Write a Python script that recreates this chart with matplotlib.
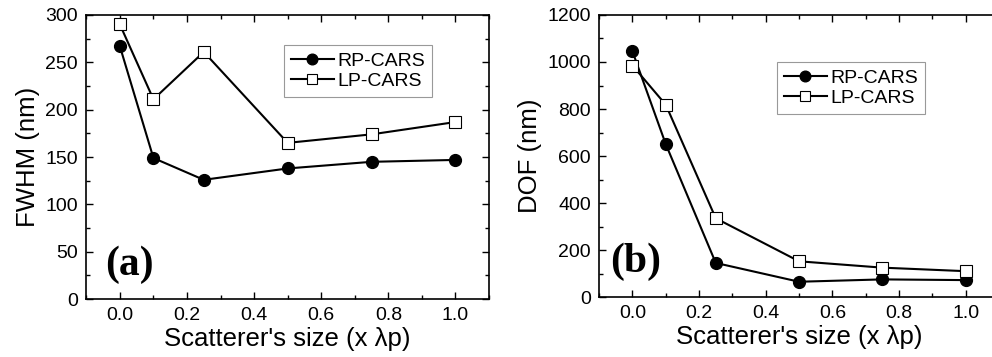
import numpy as np
import matplotlib
matplotlib.use("Agg")
from matplotlib import pyplot as plt
from matplotlib.ticker import MultipleLocator

size = [0.0, 0.1, 0.25, 0.5, 0.75, 1.0]

# (a) FWHM
fwhm_rp = [267, 149, 126, 138, 145, 147]
fwhm_lp = [290, 211, 261, 165, 174, 187]

# (b) DOF
dof_rp = [1045, 650, 145, 65, 75, 72]
dof_lp = [985, 818, 335, 152, 125, 110]

matplotlib.rcParams['font.family'] = ['Liberation Sans', 'DejaVu Sans']
matplotlib.rcParams['font.size'] = 13

fig = plt.figure(figsize=(9.92, 3.57), dpi=100)

ax1 = fig.add_axes([0.087, 0.162, 0.406, 0.796])
ax2 = fig.add_axes([0.604, 0.168, 0.403, 0.790])


def style(ax, ymaj, ymin):
    ax.set_xlim(-0.1, 1.1)
    ax.xaxis.set_major_locator(MultipleLocator(0.2))
    ax.xaxis.set_minor_locator(MultipleLocator(0.1))
    ax.yaxis.set_major_locator(MultipleLocator(ymaj))
    ax.yaxis.set_minor_locator(MultipleLocator(ymin))
    ax.tick_params(which='both', direction='in', top=True, right=True,
                   labelsize=14, width=1, pad=6)
    ax.tick_params(which='major', length=5)
    ax.tick_params(which='minor', length=3)
    for s in ax.spines.values():
        s.set_linewidth(1.2)
    ax.set_xlabel("Scatterer's size (x λp)", fontsize=18.5, labelpad=2)


for ax, rp, lp, lab, ylab, ylim, maj, mnr, lpos, tx, ty in [
        (ax1, fwhm_rp, fwhm_lp, '(a)', 'FWHM (nm)', (0, 300), 50, 25,
         (0.491, 0.894), 0.03, 36),
        (ax2, dof_rp, dof_lp, '(b)', 'DOF (nm)', (0, 1200), 200, 100,
         (0.445, 0.833), 0.01, 149)]:
    ax.plot(size, rp, '-o', color='black', lw=1.5, markersize=8.5,
            label='RP-CARS')
    ax.plot(size, lp, '-s', color='black', lw=1.5, markersize=8.5,
            markerfacecolor='white', markeredgewidth=0.8, label='LP-CARS')
    ax.set_ylim(*ylim)
    style(ax, maj, mnr)
    ax.set_ylabel(ylab, fontsize=18.5, labelpad=4)
    leg = ax.legend(loc='upper left', bbox_to_anchor=lpos, fontsize=14,
                    fancybox=False, edgecolor='gray', handlelength=2.2,
                    borderpad=0.35, labelspacing=0.15, handletextpad=0.2,
                    borderaxespad=0, markerscale=0.9)
    leg.get_frame().set_linewidth(0.8)
    ax.text(tx, ty, lab, fontsize=30, fontweight='bold',
            family='Liberation Serif', ha='center', va='center')

fig.savefig('out.png', dpi=100)
